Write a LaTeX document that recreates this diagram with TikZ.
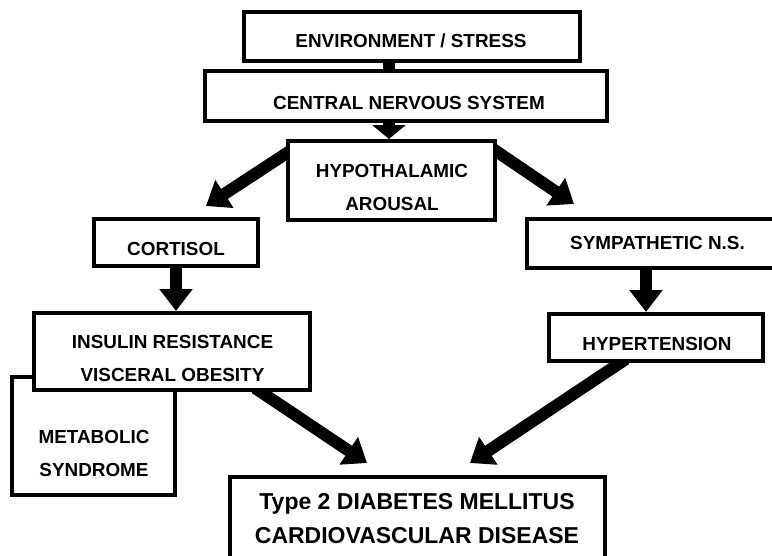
\documentclass[tikz,border=0pt]{standalone}
\usepackage{fontspec}
\setmainfont{Liberation Sans}
\usetikzlibrary{arrows.meta,calc,backgrounds}
\begin{document}
\begin{tikzpicture}[x=1pt,y=-1pt,
  box/.style={draw, line width=4pt, fill=white, inner sep=0pt, rectangle},
  lbl/.style={font=\fontsize{18.9}{33}\selectfont\bfseries, align=center, inner sep=0pt},
  biglbl/.style={font=\fontsize{23}{34}\selectfont\bfseries, align=center, inner sep=0pt},
  bar/.style={line width=12pt},
  fat/.style={line width=12pt, -{Triangle[width=32pt,length=22pt]}},
]
\useasboundingbox (0,0) rectangle (772,555);
% boxes
\node[box, minimum width=336pt, minimum height=49pt] (env) at (412,36.5) {};
\node[box, minimum width=402pt, minimum height=50pt] (cns) at (406,96) {};
\node[box, minimum width=207pt, minimum height=79pt] (hyp) at (391.5,180.5) {};
\node[box, minimum width=164pt, minimum height=47pt] (cort) at (176,242.5) {};
\node[box, minimum width=261pt, minimum height=49pt] (symp) at (657.5,243.5) {};
\node[box, minimum width=214pt, minimum height=47pt] (hyper) at (656,337.5) {};
\node[box, minimum width=163pt, minimum height=118pt] (met) at (93.5,436) {};
\node[box, minimum width=276pt, minimum height=77pt] (ins) at (172,351.5) {};
\node[box, minimum width=375pt, minimum height=91pt] (t2) at (417.5,522.5) {};
% texts
\node[lbl] (envt) at (411,41) {ENVIRONMENT / STRESS};
\node[lbl] (cnst) at (409,103) {CENTRAL NERVOUS SYSTEM};
\node[lbl] (hypt) at (392,187.5) {HYPOTHALAMIC\\AROUSAL};
\node[lbl] (cortt) at (176,248.5) {CORTISOL};
\node[lbl] (sympt) at (657.5,242.5) {SYMPATHETIC N.S.};
\node[lbl] (hypert) at (657,343.5) {HYPERTENSION};
\node[lbl] (inst) at (172.5,358.5) {INSULIN RESISTANCE\\VISCERAL OBESITY};
\node[lbl] (mett) at (94,453.5) {METABOLIC\\SYNDROME};
\node[biglbl] (t2t) at (417,519) {Type 2 DIABETES MELLITUS\\CARDIOVASCULAR DISEASE};
% free ends
\coordinate (ax) at (389,0);
\coordinate (tipc) at (206,206);
\coordinate (tips) at (574,204);
\coordinate (tipl) at (367,463);
\coordinate (tipr) at (470,463);
\begin{scope}[on background layer]
\draw[bar] (env.south -| ax) -- (cns.north -| ax);
\draw[line width=12pt, -{Triangle[width=33pt,length=14pt]}] (cns.south -| ax) -- (hyp.north -| ax);
\draw[fat] ($(hyp.north west)+(4,12)$) -- (tipc);
\draw[fat] ($(hyp.north east)+(-4,10)$) -- (tips);
\draw[fat] (cort.south) -- (cort.south |- ins.north);
\draw[fat] (symp.south -| hyper.north) ++(-10,0) coordinate (sh) -- (sh |- hyper.north);
\draw[fat] ($(ins.south east)+(-57,-4)$) -- (tipl);
\draw[fat] ($(hyper.south west)+(79,-4)$) -- (tipr);
\end{scope}
\end{tikzpicture}
\end{document}
